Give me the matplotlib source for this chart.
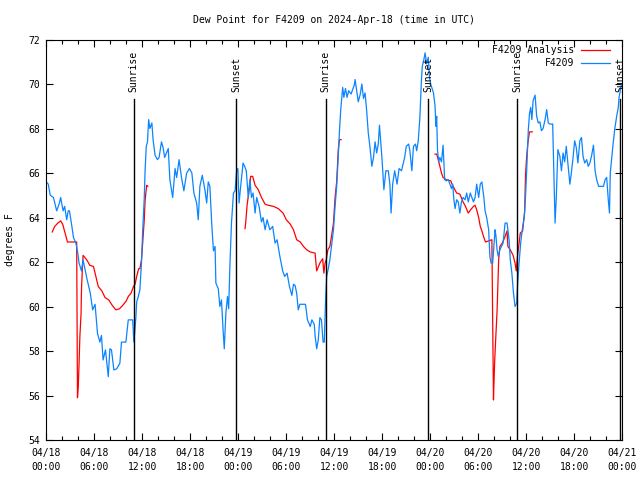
import numpy as np
import matplotlib
matplotlib.use("Agg")
import matplotlib.pyplot as plt
import matplotlib.dates as mdates
from matplotlib.lines import Line2D

plt.rcParams["font.family"] = "DejaVu Sans Mono"
plt.rcParams["font.size"] = 7

START = np.datetime64("2024-04-18T00:00")

# ── data: hours after 04/18 00:00 UTC, dew point in deg F ───────────────
obs_hours = [
    0.0, 0.25, 0.5, 0.9, 1.3, 1.6, 1.8, 2.1, 2.3, 2.55, 2.75, 2.9, 3.2, 3.4, 3.7, 3.9,
    4.1, 4.4, 4.6, 5.05, 5.5, 5.8, 6.1, 6.4, 6.7, 6.9, 7.1, 7.4, 7.75, 7.95, 8.15, 8.45,
    8.8, 9.2, 9.4, 9.95, 10.25, 10.8, 10.95, 11.2, 11.3, 11.5, 11.7, 11.9, 12.05, 12.25,
    12.35, 12.5, 12.65, 12.8, 12.95, 13.2, 13.35, 13.6, 13.9, 14.1, 14.4, 14.6, 14.8,
    15.25, 15.45, 15.8, 16.1, 16.3, 16.6, 16.9, 17.2, 17.55, 17.9, 18.2, 18.45, 18.8,
    19.0, 19.2, 19.5, 19.85, 20.05, 20.25, 20.45, 20.7, 20.9, 21.1, 21.2, 21.5, 21.7,
    21.9, 22.1, 22.25, 22.45, 22.65, 22.8, 22.95, 23.15, 23.4, 23.6, 23.8, 23.95, 24.1,
    24.3, 24.6, 24.8, 25.0, 25.25, 25.45, 25.65, 25.85, 26.1, 26.3, 26.6, 26.9, 27.1,
    27.35, 27.6, 27.95, 28.3, 28.6, 28.85, 29.2, 29.55, 29.8, 30.1, 30.4, 30.7, 30.9,
    31.1, 31.3, 31.5, 31.7, 32.4, 32.65, 33.0, 33.2, 33.5, 33.6, 33.8, 34.0, 34.2, 34.4,
    34.6, 34.75, 34.9, 35.05, 35.25, 35.45, 35.65, 35.9, 36.1, 36.3, 36.5, 36.65, 36.8,
    36.95, 37.05, 37.2, 37.4, 37.6, 37.8, 38.1, 38.35, 38.5, 38.6, 38.8, 39.0, 39.25,
    39.45, 39.65, 39.85, 40.05, 40.25, 40.45, 40.7, 40.9, 41.1, 41.3, 41.5, 41.65, 41.8,
    42.0, 42.2, 42.45, 42.75, 42.95, 43.1, 43.3, 43.55, 43.85, 44.1, 44.4, 44.6, 44.8,
    45.0, 45.3, 45.45, 45.7, 45.9, 46.15, 46.3, 46.5, 46.7, 46.9, 47.0, 47.2, 47.35,
    47.55, 47.75, 47.9, 48.05, 48.4, 48.6, 48.7, 48.8, 48.9, 49.05, 49.2, 49.4, 49.6,
    49.8, 50.0, 50.25, 50.45, 50.65, 50.8, 50.95, 51.1, 51.3, 51.5, 51.7, 51.9, 52.1,
    52.35, 52.55, 52.75, 53.0, 53.2, 53.4, 53.6, 53.8, 54.05, 54.25, 54.45, 54.7, 54.85,
    55.05, 55.3, 55.45, 55.6, 55.8, 56.1, 56.2, 56.35, 56.5, 56.7, 56.9, 57.1, 57.35,
    57.6, 57.85, 58.0, 58.2, 58.4, 58.6, 58.8, 58.9, 59.1, 59.3, 59.55, 59.75, 59.9,
    60.05, 60.25, 60.4, 60.55, 60.7, 60.85, 61.1, 61.3, 61.5, 61.7, 61.9, 62.1, 62.35,
    62.55, 62.75, 62.95, 63.3, 63.45, 63.6, 63.75, 63.95, 64.2, 64.4, 64.6, 64.8, 65.0,
    65.2, 65.45, 65.6, 65.85, 66.05, 66.25, 66.45, 66.7, 66.9, 67.1, 67.3, 67.55, 67.75,
    67.95, 68.15, 68.4, 68.6, 68.8, 69.05, 69.45, 69.65, 69.85, 70.05, 70.25, 70.4,
    70.5, 70.7, 70.85, 71.05, 71.3, 71.5, 71.6, 71.9,
]
obs_dewpt = [
    65.6, 65.5, 65.0, 64.9, 64.3, 64.6, 64.9, 64.3, 64.5, 63.9, 64.3, 64.3, 63.6, 63.1, 62.85, 62.5,
    61.95, 61.6, 62.1, 61.3, 60.6, 59.85, 60.1, 58.8, 58.4, 58.7, 57.6, 58.05, 56.85, 58.1, 58.05, 57.15,
    57.2, 57.45, 58.4, 58.4, 59.4, 59.4, 58.4, 59.5, 60.2, 60.45, 60.75, 61.95, 63.4, 64.9,
    66.1, 67.2, 67.4, 68.4, 68.0, 68.25, 67.5, 66.8, 66.6, 66.7, 67.4, 67.15, 66.7,
    67.1, 65.7, 64.9, 66.2, 65.8, 66.6, 65.8, 65.2, 66.0, 66.2, 66.0, 65.1, 64.65,
    63.9, 65.4, 65.9, 65.2, 64.65, 65.6, 65.4, 63.6, 62.5, 62.7, 61.05, 60.8, 60.0,
    60.3, 58.95, 58.1, 59.7, 60.45, 59.9, 61.8, 63.75, 65.1, 65.2, 66.1, 66.2, 64.65,
    65.4, 66.45, 66.3, 66.1, 64.9, 65.7, 64.9, 65.1, 64.2, 64.9, 64.5, 63.8, 64.0,
    63.45, 63.9, 63.45, 63.6, 62.85, 63.0, 62.25, 61.6, 61.35, 61.5, 60.9, 60.5, 61.0,
    60.95, 60.6, 59.85, 60.1, 60.1, 59.4, 59.1, 59.4, 59.2, 58.7, 58.1, 58.5, 59.5, 59.4,
    58.4, 58.4, 60.15, 61.35, 61.7, 62.1, 62.7, 63.45, 64.5, 65.4, 66.75, 67.9, 68.8,
    69.4, 69.85, 69.4, 69.8, 69.4, 69.7, 69.55, 69.8, 69.95, 70.2, 69.7, 69.2, 69.55,
    70.0, 69.35, 69.6, 68.8, 67.8, 67.2, 66.3, 66.7, 67.4, 66.9, 67.3, 68.15, 67.45,
    66.45, 65.25, 66.1, 66.1, 65.5, 64.2, 65.5, 66.1, 65.5, 66.2, 66.1, 66.4, 66.7,
    67.2, 67.3, 67.0, 66.1, 67.2, 67.3, 67.0, 67.45, 68.5, 70.2, 70.8, 71.1, 71.4,
    70.9, 71.2, 70.3, 70.0, 69.6, 69.0, 68.1, 68.55, 67.05, 66.5, 66.7, 66.5, 67.25,
    65.7, 65.65, 65.7, 65.5, 65.3, 65.5, 64.8, 64.4, 64.8, 64.7, 64.2, 64.7, 64.9,
    64.8, 65.1, 64.7, 65.1, 64.9, 64.7, 64.9, 65.5, 64.9, 65.5, 65.6, 64.9, 64.3,
    64.0, 63.45, 62.25, 61.95, 61.95, 63.45, 63.2, 62.55, 62.25, 62.55, 62.7, 62.85, 63.75,
    63.75, 63.0, 62.1, 61.5, 60.6, 60.0, 60.15, 60.9, 61.95, 62.85, 63.6, 64.0, 64.9,
    66.1, 67.9, 68.65, 68.95, 68.4, 69.25, 69.5, 68.55, 68.25, 68.3, 67.9, 68.0, 68.4,
    68.85, 68.25, 68.2, 68.2, 66.0, 63.75, 64.9, 67.05, 66.75, 66.1, 66.9, 66.5, 67.2,
    66.45, 65.5, 65.9, 66.7, 67.45, 67.15, 66.45, 67.45, 67.6, 66.75, 66.45, 66.6, 66.3,
    66.45, 66.75, 67.25, 66.1, 65.7, 65.4, 65.4, 65.4, 65.7, 65.8, 64.8, 64.2,
    66.0, 66.75, 67.3, 67.95, 68.55, 68.95, 69.4, 70.0,
]

ana_hours_1 = [
    0.75, 1.05, 1.45, 1.8, 2.05, 2.35, 2.65, 3.8, 3.9, 4.0, 4.1, 4.2, 4.35, 4.4, 4.5, 4.6,
    5.05, 5.45, 5.9, 6.1, 6.5, 6.95, 7.35, 7.8, 8.25, 8.7, 9.15, 9.55, 10.0, 10.25, 10.6,
    10.9, 11.1, 11.3, 11.55, 11.7, 11.9, 12.05, 12.25, 12.35, 12.55, 12.7,
]
ana_dewpt_1 = [
    63.35, 63.6, 63.75, 63.85, 63.7, 63.3, 62.9, 62.9, 55.9, 56.4, 57.45, 58.65, 59.7, 60.75, 61.6, 62.3,
    62.1, 61.85, 61.8, 61.5, 60.9, 60.7, 60.4, 60.3, 60.05, 59.85, 59.9, 60.05, 60.25, 60.45, 60.6,
    60.9, 61.0, 61.35, 61.7, 61.7, 62.1, 62.85, 63.9, 64.75, 65.45, 65.4,
]
ana_hours_2 = [
    24.85, 24.95, 25.1, 25.4, 25.55, 25.8, 26.1, 26.5, 26.9, 27.35, 27.75, 28.4, 29.0, 29.6,
    30.0, 30.5, 30.9, 31.3, 31.75, 32.15, 32.55, 33.0, 33.6, 33.8, 34.2, 34.55, 34.7, 34.85,
    35.0, 35.2, 35.45, 35.65, 35.9, 36.1, 36.3, 36.5, 36.65, 36.85,
]
ana_dewpt_2 = [
    63.5, 63.85, 64.55, 65.35, 65.85, 65.85, 65.45, 65.25, 64.9, 64.6, 64.55, 64.5, 64.4, 64.2,
    63.9, 63.7, 63.45, 63.0, 62.9, 62.7, 62.55, 62.45, 62.4, 61.6, 61.95, 62.15, 61.5, 61.95,
    62.1, 62.55, 62.7, 63.15, 63.75, 64.9, 65.6, 67.05, 67.5, 67.5,
]
ana_hours_3 = [
    48.6, 48.8, 49.0, 49.2, 49.4, 49.6, 50.0, 50.55, 50.85, 51.3, 51.7, 52.1, 52.4, 52.75,
    53.05, 53.4, 53.6, 53.8, 54.05, 54.25, 54.45, 54.7, 54.9, 55.3, 55.7, 55.8, 55.9, 55.95,
    56.05, 56.2, 56.35, 56.45, 56.55, 56.7, 57.0, 57.3, 57.6, 57.7, 58.0, 58.35, 58.6,
    58.75, 58.9, 59.05, 59.25, 59.55, 59.8, 59.9, 60.05, 60.2, 60.4, 60.75,
]
ana_dewpt_3 = [
    66.85, 66.85, 66.6, 66.3, 66.0, 65.8, 65.7, 65.65, 65.4, 65.1, 65.05, 64.7, 64.5, 64.2,
    64.35, 64.5, 64.55, 64.35, 64.0, 63.6, 63.4, 63.1, 62.9, 62.95, 63.0, 59.4, 55.8, 56.4,
    57.55, 58.7, 59.8, 60.95, 62.1, 62.7, 62.85, 63.1, 63.4, 62.7, 62.55, 62.3, 61.95,
    61.6, 62.25, 62.7, 63.3, 63.4, 64.3, 65.85, 66.75, 67.35, 67.85, 67.85,
]

sun_names = ["Sunrise", "Sunset", "Sunrise", "Sunset", "Sunrise", "Sunset"]
sun_hours = [10.93, 23.72, 34.92, 47.73, 58.88, 71.75]


def to_time(hours):
    mins = np.round(np.asarray(hours, dtype=float) * 60).astype("int64")
    return START + mins.astype("timedelta64[m]")


fig = plt.figure(figsize=(6.4, 4.8), dpi=100)
ax = fig.add_axes([0.0723, 0.0833, 0.9, 0.8344])

# analysis comes in three separate pieces
for hrs, vals in [(ana_hours_1, ana_dewpt_1), (ana_hours_2, ana_dewpt_2),
                  (ana_hours_3, ana_dewpt_3)]:
    ax.plot(to_time(hrs), vals, color="#ff0000", lw=0.9)
ax.plot(to_time(obs_hours), obs_dewpt, color="#0a84ff", lw=0.9)

# sunrise / sunset markers
for name, h in zip(sun_names, sun_hours):
    t = to_time([h])[0]
    ax.plot([t, t], [54, 69.33], color="black", lw=1.0)
    ax.text(t, 69.62, name, rotation=90, ha="center", va="bottom")

ax.set_xlim(to_time([0])[0], to_time([72])[0])
ax.set_ylim(54, 72)
ax.set_yticks(np.arange(54, 73, 2))
ax.xaxis.set_major_locator(mdates.HourLocator(byhour=[0, 6, 12, 18]))
ax.xaxis.set_minor_locator(mdates.HourLocator(byhour=range(0, 24, 2)))
ax.xaxis.set_major_formatter(mdates.DateFormatter("%m/%d\n%H:%M"))
ax.tick_params(which="both", direction="in", top=True, right=True, width=0.8)
ax.tick_params(which="major", length=5)
ax.tick_params(which="minor", length=3)
ax.tick_params(axis="x", pad=6)
ax.tick_params(axis="y", pad=4.5)
for sp in ax.spines.values():
    sp.set_linewidth(0.8)

ax.set_ylabel("degrees F")
ax.yaxis.set_label_coords(-0.054, 0.5)
ax.set_title("Dew Point for F4209 on 2024-Apr-18 (time in UTC)", fontsize=7, pad=12)

# gnuplot-style key: text right-aligned, sample line after it
for label, color, yk in [("F4209 Analysis", "#ff0000", 0.974), ("F4209", "#0a84ff", 0.941)]:
    ax.text(0.916, yk, label, transform=ax.transAxes, ha="right", va="center")
    ax.add_line(Line2D([0.928, 0.978], [yk, yk], transform=ax.transAxes, color=color, lw=0.9))

fig.canvas.draw()
for lab in ax.get_xticklabels():
    lab.set_linespacing(1.5)

fig.savefig("out.png", dpi=100)
